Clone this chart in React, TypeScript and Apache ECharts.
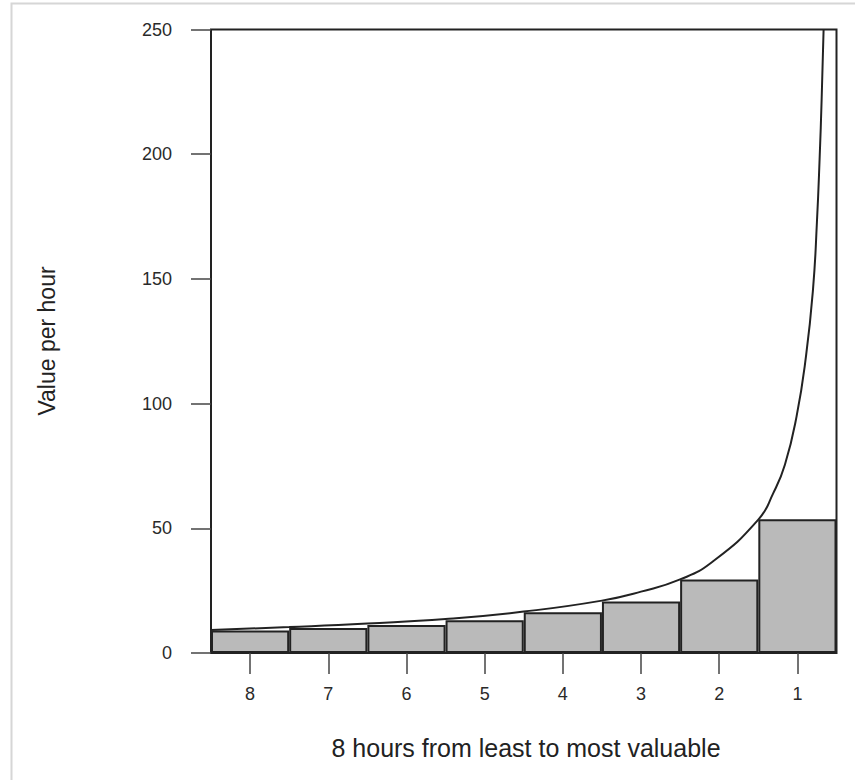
import React, { useEffect, useRef } from "react";
import * as echarts from "echarts";

// Bars: value per hour, hours ranked from least (8) to most (1) valuable
const hourLabels = ["8", "7", "6", "5", "4", "3", "2", "1"];
const hourValues = [9.0, 10.0, 11.2, 13.1, 16.3, 20.6, 29.5, 53.6];

// Continuous value curve (position along 8 hours, value)
const curveX = [0, 1, 2, 3, 4, 5, 5.5, 6, 6.41, 7, 7.19, 7.34, 7.49, 7.61, 7.7, 7.75, 7.785, 7.81, 7.835];
const curveY = [9.2, 10.4, 11.8, 13.6, 16.6, 21, 24.6, 29.5, 36.5, 53.5, 64, 75.5, 95, 119, 146, 173, 199, 222, 250];

const yMin = 0;
const yMax = 250;
const yStep = 50;

const xTitle = "8 hours from least to most valuable";
const yTitle = "Value per hour";

const FONT = "'Liberation Sans', Arial, Helvetica, sans-serif";

export default function App() {
  const ref = useRef<HTMLDivElement>(null);

  useEffect(() => {
    document.body.style.margin = "0";
    if (!ref.current) return;
    const chart = echarts.init(ref.current, undefined, { renderer: "svg" });
    const curve = curveX.map((x, i) => [x, curveY[i]]);

    chart.setOption({
      animation: false,
      backgroundColor: "#ffffff",
      grid: {
        left: 211,
        top: 29.5,
        width: 625.5,
        height: 623.5,
        show: true,
        borderColor: "#222222",
        borderWidth: 2,
        backgroundColor: "#ffffff",
      },
      xAxis: [
        {
          type: "category",
          data: hourLabels,
          boundaryGap: true,
          position: "bottom",
          offset: 6,
          axisLine: { show: false },
          axisTick: {
            show: true,
            alignWithLabel: true,
            length: 21,
            lineStyle: { color: "#444444", width: 1.5 },
          },
          axisLabel: {
            margin: 26,
            fontSize: 18,
            color: "#2a2a2a",
            fontFamily: FONT,
          },
          splitLine: { show: false },
        },
        {
          type: "value",
          min: 0,
          max: 8,
          show: false,
          position: "bottom",
        },
      ],
      yAxis: {
        type: "value",
        min: yMin,
        max: yMax,
        interval: yStep,
        offset: 6,
        axisLine: { show: false },
        axisTick: {
          show: true,
          length: 20,
          lineStyle: { color: "#444444", width: 1.5 },
        },
        axisLabel: {
          margin: 33,
          fontSize: 18,
          color: "#2a2a2a",
          fontFamily: FONT,
        },
        splitLine: { show: false },
      },
      series: [
        {
          type: "bar",
          xAxisIndex: 0,
          data: hourValues,
          barWidth: "100%",
          barCategoryGap: "0%",
          itemStyle: {
            color: "#bababa",
            borderColor: "#222222",
            borderWidth: 2,
          },
          z: 2,
        },
        {
          type: "line",
          xAxisIndex: 1,
          data: curve,
          symbol: "none",
          smooth: 0.5,
          clip: true,
          lineStyle: { color: "#222222", width: 2 },
          z: 3,
        },
      ],
      graphic: [
        {
          type: "rect",
          shape: { x: 11.5, y: 3.5, width: 900, height: 900 },
          style: { fill: "none", stroke: "#d6d6d6", lineWidth: 2 },
          silent: true,
          z: -1,
        },
        {
          type: "text",
          x: 526,
          y: 748,
          style: {
            text: xTitle,
            fontSize: 25,
            fontFamily: FONT,
            fill: "#222222",
            align: "center",
            verticalAlign: "middle",
          },
        },
        {
          type: "text",
          x: 47,
          y: 341,
          rotation: Math.PI / 2,
          style: {
            text: yTitle,
            fontSize: 23,
            fontFamily: FONT,
            fill: "#222222",
            align: "center",
            verticalAlign: "middle",
          },
        },
      ],
    });

    return () => chart.dispose();
  }, []);

  return <div ref={ref} style={{ width: 855, height: 780 }} />;
}
